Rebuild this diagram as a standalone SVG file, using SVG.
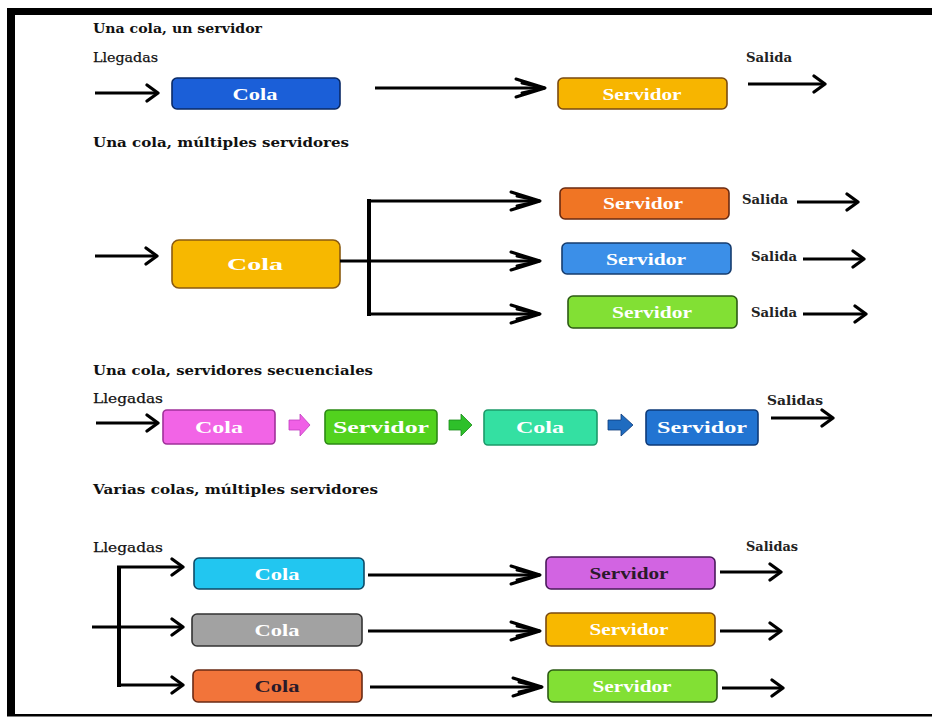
<svg xmlns="http://www.w3.org/2000/svg" width="932" height="717" viewBox="0 0 932 717">
  <style>
    .title { font-family: "DejaVu Serif", "Liberation Serif", serif; font-weight: bold; font-size: 13px; fill: #111; }
    .lbl { font-family: "DejaVu Serif", "Liberation Serif", serif; font-size: 13.5px; fill: #111; stroke: #111; stroke-width: 0.25; }
    .out { font-family: "DejaVu Serif", "Liberation Serif", serif; font-weight: bold; font-size: 12px; fill: #222; }
    .bt { font-family: "Liberation Serif", "DejaVu Serif", serif; font-weight: bold; font-size: 17px; fill: #fff; text-anchor: middle; }
    .dark { fill: #2a1a2a; }
    .box { stroke-width: 1.6; }
    .ln { stroke: #000; stroke-width: 3; fill: none; }
    .bar { stroke: #000; stroke-width: 4; fill: none; }
    .a1 { marker-end: url(#open); }
    .a2 { marker-end: url(#dbl); }
  </style>
  <defs>
    <marker id="open" markerUnits="userSpaceOnUse" viewBox="0 0 16 20" markerWidth="16" markerHeight="20" refX="14" refY="10" orient="auto">
      <path d="M3,2 L14,10 L3,18" fill="none" stroke="#000" stroke-width="3.2" stroke-linecap="round" stroke-linejoin="round"/>
    </marker>
    <marker id="dbl" markerUnits="userSpaceOnUse" viewBox="0 0 38 24" markerWidth="38" markerHeight="24" refX="35" refY="12" orient="auto">
      <path d="M6,3 L35,12 L6,21 M12,7 L35,12 L12,17" fill="none" stroke="#000" stroke-width="3" stroke-linecap="round" stroke-linejoin="round"/>
    </marker>
  </defs>

  <rect width="932" height="717" fill="#fff"/>

  <!-- frame -->
  <g id="frame" fill="#000">
    <rect x="7" y="8" width="925" height="7"/>
    <rect x="7" y="8" width="8" height="708"/>
    <rect x="7" y="714" width="925" height="2.5"/>
  </g>

  <!-- section headings and free labels -->
  <g id="labels">
    <text class="title" x="93" y="33" textLength="169" lengthAdjust="spacingAndGlyphs">Una cola, un servidor</text>
    <text class="lbl" x="93" y="62" textLength="65" lengthAdjust="spacingAndGlyphs">Llegadas</text>
    <text class="out" x="746" y="62" textLength="46" lengthAdjust="spacingAndGlyphs">Salida</text>

    <text class="title" x="93" y="147" textLength="256" lengthAdjust="spacingAndGlyphs">Una cola, múltiples servidores</text>
    <text class="out" x="742" y="204" font-size="11" textLength="46" lengthAdjust="spacingAndGlyphs">Salida</text>
    <text class="out" x="751" y="261" font-size="11" textLength="46" lengthAdjust="spacingAndGlyphs">Salida</text>
    <text class="out" x="751" y="317" font-size="11" textLength="46" lengthAdjust="spacingAndGlyphs">Salida</text>

    <text class="title" x="93" y="375" textLength="280" lengthAdjust="spacingAndGlyphs">Una cola, servidores secuenciales</text>
    <text class="lbl" x="93" y="403" textLength="70" lengthAdjust="spacingAndGlyphs">Llegadas</text>
    <text class="out" x="767" y="405" font-size="13" textLength="56" lengthAdjust="spacingAndGlyphs">Salidas</text>

    <text class="title" x="93" y="494" textLength="285" lengthAdjust="spacingAndGlyphs">Varias colas, múltiples servidores</text>
    <text class="lbl" x="93" y="552" textLength="70" lengthAdjust="spacingAndGlyphs">Llegadas</text>
    <text class="out" x="746" y="551" textLength="52" lengthAdjust="spacingAndGlyphs">Salidas</text>
  </g>

  <!-- section 1: one queue, one server -->
  <g id="s1-cola">
    <rect class="box" x="172" y="78" width="168" height="31" rx="5" fill="#1b5fd8" stroke="#0a2a66"/>
    <text class="bt" x="255" y="100" textLength="45" lengthAdjust="spacingAndGlyphs">Cola</text>
  </g>
  <g id="s1-servidor">
    <rect class="box" x="558" y="78" width="169" height="31" rx="5" fill="#f7b500" stroke="#7a4a10"/>
    <text class="bt" x="642" y="100" textLength="79" lengthAdjust="spacingAndGlyphs">Servidor</text>
  </g>

  <!-- section 2: one queue, several servers -->
  <g id="s2-cola">
    <rect class="box" x="172" y="240" width="168" height="48" rx="7" fill="#f7b800" stroke="#8a5a10"/>
    <text class="bt" x="255" y="270" font-size="22" textLength="56" lengthAdjust="spacingAndGlyphs">Cola</text>
  </g>
  <g id="s2-servidor-1">
    <rect class="box" x="560" y="188" width="169" height="31" rx="5" fill="#f07524" stroke="#6a2a10"/>
    <text class="bt" x="643" y="209" textLength="80" lengthAdjust="spacingAndGlyphs">Servidor</text>
  </g>
  <g id="s2-servidor-2">
    <rect class="box" x="562" y="243" width="169" height="31" rx="5" fill="#3b8fe8" stroke="#163c6e"/>
    <text class="bt" x="646" y="265" textLength="80" lengthAdjust="spacingAndGlyphs">Servidor</text>
  </g>
  <g id="s2-servidor-3">
    <rect class="box" x="568" y="296" width="169" height="32" rx="5" fill="#82e034" stroke="#2c5a14"/>
    <text class="bt" x="652" y="318" textLength="80" lengthAdjust="spacingAndGlyphs">Servidor</text>
  </g>

  <!-- section 3: sequential servers -->
  <g id="s3-cola-1">
    <rect class="box" x="163" y="410" width="112" height="34" rx="4" fill="#f264e6" stroke="#a0309a"/>
    <text class="bt" x="219" y="433" font-size="20" textLength="48" lengthAdjust="spacingAndGlyphs">Cola</text>
  </g>
  <g id="s3-servidor-1">
    <rect class="box" x="325" y="410" width="112" height="34" rx="4" fill="#52d21e" stroke="#2c8a14"/>
    <text class="bt" x="381" y="433" font-size="20" textLength="96" lengthAdjust="spacingAndGlyphs">Servidor</text>
  </g>
  <g id="s3-cola-2">
    <rect class="box" x="484" y="410" width="113" height="35" rx="4" fill="#34e0a2" stroke="#1c9a6a"/>
    <text class="bt" x="540" y="433" font-size="20" textLength="48" lengthAdjust="spacingAndGlyphs">Cola</text>
  </g>
  <g id="s3-servidor-2">
    <rect class="box" x="646" y="410" width="112" height="35" rx="4" fill="#2274d2" stroke="#0e3a78"/>
    <text class="bt" x="702" y="433" font-size="20" textLength="90" lengthAdjust="spacingAndGlyphs">Servidor</text>
  </g>

  <!-- section 4: several queues, several servers -->
  <g id="s4-cola-1">
    <rect class="box" x="194" y="558" width="170" height="31" rx="5" fill="#22c6f0" stroke="#0e4a66"/>
    <text class="bt" x="277" y="580" textLength="45" lengthAdjust="spacingAndGlyphs">Cola</text>
  </g>
  <g id="s4-cola-2">
    <rect class="box" x="192" y="614" width="170" height="32" rx="5" fill="#a2a2a2" stroke="#333"/>
    <text class="bt" x="277" y="636" textLength="45" lengthAdjust="spacingAndGlyphs">Cola</text>
  </g>
  <g id="s4-cola-3">
    <rect class="box" x="193" y="670" width="169" height="32" rx="5" fill="#f2743a" stroke="#6a2a14"/>
    <text class="bt dark" x="277" y="692" textLength="45" lengthAdjust="spacingAndGlyphs">Cola</text>
  </g>
  <g id="s4-servidor-1">
    <rect class="box" x="546" y="557" width="169" height="32" rx="5" fill="#d264e2" stroke="#4a1a5a"/>
    <text class="bt dark" x="629" y="579" textLength="79" lengthAdjust="spacingAndGlyphs">Servidor</text>
  </g>
  <g id="s4-servidor-2">
    <rect class="box" x="546" y="613" width="169" height="33" rx="5" fill="#f8b800" stroke="#7a4a10"/>
    <text class="bt" x="629" y="635" textLength="79" lengthAdjust="spacingAndGlyphs">Servidor</text>
  </g>
  <g id="s4-servidor-3">
    <rect class="box" x="548" y="670" width="169" height="32" rx="5" fill="#82e034" stroke="#2c5a14"/>
    <text class="bt" x="632" y="692" textLength="79" lengthAdjust="spacingAndGlyphs">Servidor</text>
  </g>

  <!-- connectors -->
  <g id="connectors">
    <!-- section 1 -->
    <line class="ln a1" x1="95" y1="93" x2="158" y2="93"/>
    <line class="ln a2" x1="375" y1="88" x2="545" y2="88"/>
    <line class="ln a1" x1="748" y1="84" x2="825" y2="84"/>

    <!-- section 2 -->
    <line class="ln a1" x1="95" y1="256" x2="157" y2="256"/>
    <line class="ln" x1="340" y1="261" x2="369" y2="261"/>
    <line class="bar" x1="369" y1="199" x2="369" y2="316"/>
    <line class="ln a2" x1="369" y1="201" x2="540" y2="201"/>
    <line class="ln a2" x1="369" y1="261" x2="540" y2="261"/>
    <line class="ln a2" x1="369" y1="314" x2="540" y2="314"/>
    <line class="ln a1" x1="797" y1="202" x2="858" y2="202"/>
    <line class="ln a1" x1="803" y1="259" x2="864" y2="259"/>
    <line class="ln a1" x1="803" y1="314" x2="866" y2="314"/>

    <!-- section 3 -->
    <line class="ln a1" x1="96" y1="423" x2="158" y2="423"/>
    <path d="M289,420 h11 v-6 l10,11 l-10,11 v-6 h-11 z" fill="#f060e6" stroke="#c040c0" stroke-width="0.8"/>
    <path d="M449,420 h12 v-6 l11,11 l-11,11 v-6 h-12 z" fill="#2ec02a" stroke="#1a8a1a" stroke-width="0.8"/>
    <path d="M608,420 h13 v-6 l12,11 l-12,11 v-6 h-13 z" fill="#1f6cc0" stroke="#0e3a78" stroke-width="0.8"/>
    <line class="ln a1" x1="771" y1="418" x2="833" y2="418"/>

    <!-- section 4 -->
    <line class="bar" x1="119" y1="567" x2="119" y2="687"/>
    <line class="ln a1" x1="117" y1="567" x2="183" y2="567"/>
    <line class="ln a1" x1="92" y1="627" x2="183" y2="627"/>
    <line class="ln a1" x1="117" y1="685" x2="183" y2="685"/>
    <line class="ln a2" x1="368" y1="575" x2="540" y2="575"/>
    <line class="ln a2" x1="368" y1="631" x2="540" y2="631"/>
    <line class="ln a2" x1="370" y1="687" x2="542" y2="687"/>
    <line class="ln a1" x1="720" y1="572" x2="781" y2="572"/>
    <line class="ln a1" x1="720" y1="631" x2="781" y2="631"/>
    <line class="ln a1" x1="722" y1="688" x2="783" y2="688"/>
  </g>
</svg>
